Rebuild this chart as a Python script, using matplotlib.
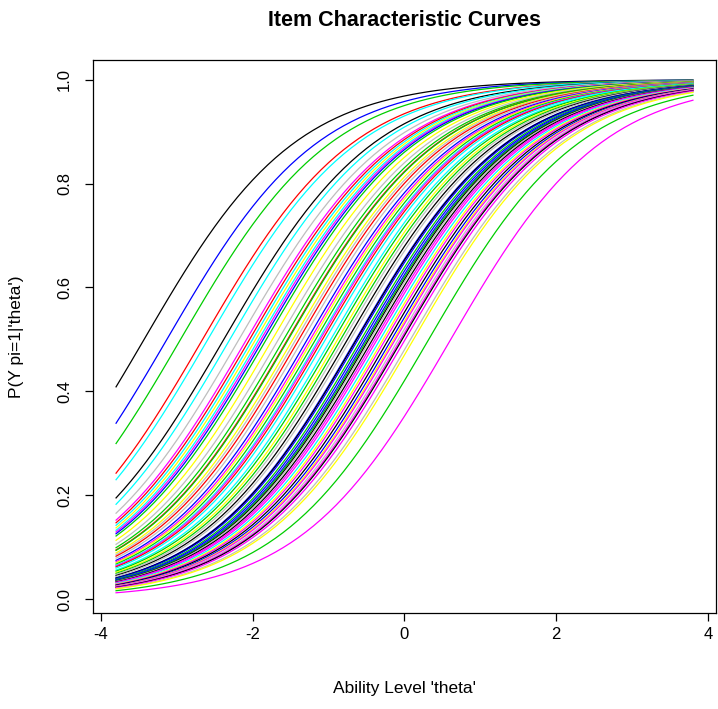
"""
Item characteristic curves (Rasch model), R base-graphics look.
"""

import numpy as np
import matplotlib
matplotlib.use('Agg')
import matplotlib.pyplot as plt

plt.rcParams['font.family'] = ['Liberation Sans', 'DejaVu Sans']
plt.rcParams['axes.unicode_minus'] = False

difficulty = [
    -3.43, -3.13, -2.95, -2.66, -2.59, -2.38, -2.30, -2.18, -2.08, -2.04,
    -2.00, -1.96, -1.92, -1.89, -1.86, -1.82, -1.74, -1.66, -1.59, -1.54,
    -1.53, -1.47, -1.43, -1.39, -1.34, -1.28, -1.24, -1.21, -1.17, -1.13,
    -1.11, -1.08, -1.04, -0.97, -0.93, -0.88, -0.84, -0.80, -0.75, -0.71,
    -0.64, -0.63, -0.61, -0.57, -0.54, -0.51, -0.49, -0.47, -0.45, -0.42,
    -0.39, -0.36, -0.32, -0.28, -0.25, -0.21, -0.17, -0.14, -0.12, -0.08,
    -0.05, -0.03, 0.01, 0.08, 0.12, 0.32, 0.61,
]
item_color = [
    'black', 'blue', 'green', 'red', 'cyan', 'black', 'cyan', 'gray', 'magenta', 'red',
    'cyan', 'yellow', 'cyan', 'magenta', 'blue', 'green', 'yellow', 'gray', 'green', 'red',
    'green', 'yellow', 'gray', 'red', 'gray', 'blue', 'magenta', 'yellow', 'green', 'cyan',
    'magenta', 'red', 'cyan', 'cyan', 'green', 'yellow', 'green', 'gray', 'black', 'gray',
    'blue', 'black', 'blue', 'green', 'blue', 'blue', 'green', 'black', 'gray', 'black',
    'magenta', 'magenta', 'cyan', 'yellow', 'magenta', 'black', 'blue', 'yellow', 'magenta', 'gray',
    'magenta', 'black', 'magenta', 'gray', 'yellow', 'green', 'magenta',
]

# R (pre-4.0) default palette
r_palette = {
    'black': '#000000', 'red': '#FF0000', 'green': '#00CD00', 'blue': '#0000FF',
    'cyan': '#00FFFF', 'magenta': '#FF00FF', 'yellow': '#FFFF00', 'gray': '#BEBEBE',
}

theta = np.arange(-3.8, 3.8001, 0.1)

# ── Figure ────────────────────────────────────────────────────────────────────
fig = plt.figure(figsize=(7.18, 7.09), dpi=100)
ax = fig.add_axes([0.1295, 0.135, 0.8677, 0.781])

for b, c in zip(difficulty, item_color):
    p = 1.0 / (1.0 + np.exp(-(theta - b)))
    ax.plot(theta, p, color=r_palette[c], linewidth=0.9)

ax.margins(x=0.04, y=0.04)
ax.set_xticks([-4, -2, 0, 2, 4])
ax.set_yticks([0.0, 0.2, 0.4, 0.6, 0.8, 1.0])
ax.set_yticklabels(['0.0', '0.2', '0.4', '0.6', '0.8', '1.0'], rotation=90, va='center')
ax.tick_params(direction='out', length=6, width=0.9, labelsize=12, pad=4)
ax.tick_params(axis='y', pad=9)
for s in ax.spines.values():
    s.set_linewidth(0.9)

ax.set_title('Item Characteristic Curves', fontsize=15.5, fontweight='bold', pad=24)
ax.set_xlabel("Ability Level 'theta'", fontsize=12.5, labelpad=28)
ax.set_ylabel("P(Y pi=1|'theta')", fontsize=12.5, labelpad=24)

plt.savefig('out.png', dpi=100)
plt.close(fig)
